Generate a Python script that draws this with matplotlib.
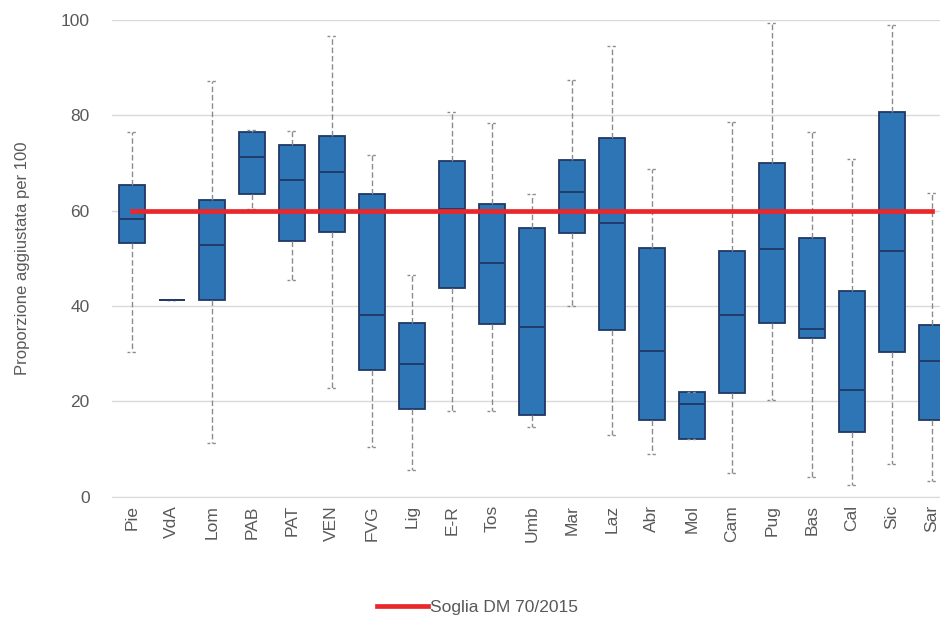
import matplotlib
matplotlib.use("Agg")
import matplotlib.pyplot as plt
from matplotlib.lines import Line2D

plt.rcParams['font.family'] = ['Liberation Sans', 'DejaVu Sans']

regions = ["Pie", "VdA", "Lom", "PAB", "PAT", "VEN", "FVG", "Lig", "E-R", "Tos",
           "Umb", "Mar", "Laz", "Abr", "Mol", "Cam", "Pug", "Bas", "Cal", "Sic", "Sar"]
whisker_low = [30.3, 41.2, 11.3, 60.4, 45.5, 22.9, 10.5, 5.7, 18.0, 18.0,
               14.7, 40.0, 12.9, 8.9, 12.1, 5.0, 20.3, 4.1, 2.5, 6.9, 3.3]
q1 = [53.2, 41.2, 41.3, 63.4, 53.7, 55.6, 26.5, 18.5, 43.8, 36.3,
      17.1, 55.4, 34.9, 16.1, 12.1, 21.7, 36.4, 33.3, 13.6, 30.4, 16.1]
median = [58.3, 41.2, 52.8, 71.3, 66.5, 68.1, 38.2, 27.9, 60.4, 49.0,
          35.6, 63.8, 57.5, 30.5, 19.5, 38.2, 51.9, 35.2, 22.3, 51.6, 28.4]
q3 = [65.4, 41.2, 62.3, 76.5, 73.7, 75.7, 63.5, 36.4, 70.4, 61.3,
      56.4, 70.6, 75.2, 52.1, 22.0, 51.6, 70.0, 54.3, 43.1, 80.6, 36.0]
whisker_high = [76.5, 41.2, 87.2, 76.8, 76.7, 96.7, 71.6, 46.5, 80.6, 78.3,
                63.5, 87.4, 94.4, 68.7, 22.0, 78.5, 99.3, 76.4, 70.8, 98.9, 63.7]
threshold = 60
threshold_label = "Soglia DM 70/2015"

stats = []
for i, name in enumerate(regions):
    stats.append({"label": name, "whislo": whisker_low[i], "q1": q1[i], "med": median[i],
                  "q3": q3[i], "whishi": whisker_high[i]})

fig = plt.figure(figsize=(9.4, 6.18), dpi=100)
ax = fig.add_axes([0.119, 0.196, 0.881, 0.772])

text_col = "#595959"
ax.bxp(stats, positions=range(len(regions)), widths=0.65, patch_artist=True,
       showfliers=False, capwidths=0.25,
       boxprops=dict(facecolor="#2E75B6", edgecolor="#1F3864", linewidth=1.3),
       medianprops=dict(color="#1F3864", linewidth=1.3),
       whiskerprops=dict(color="#8C8C8C", linestyle=(0, (4, 2)), linewidth=1),
       capprops=dict(color="#8C8C8C", linestyle=(0, (2, 2)), linewidth=1),
       zorder=3)

ax.plot([0, len(regions) - 1], [threshold, threshold], color="#E8282B", linewidth=3.4, zorder=4)

ax.set_xlim(-0.5, 20.2)
ax.set_ylim(0, 100)
ax.set_yticks([0, 20, 40, 60, 80, 100])
ax.set_xticks(range(len(regions)))
ax.set_xticklabels(regions, rotation=90, fontsize=12.5, color=text_col)
ax.tick_params(axis='y', labelsize=12.5, labelcolor=text_col, length=0, pad=16)
ax.tick_params(axis='x', length=0, pad=6)
ax.set_ylabel("Proporzione aggiustata per 100", fontsize=12, color=text_col, labelpad=22)

ax.grid(axis='y', color="#D9D9D9", linewidth=1, zorder=0)
ax.set_axisbelow(True)
for side in ["top", "right", "left"]:
    ax.spines[side].set_visible(False)
ax.spines["bottom"].set_color("#D9D9D9")

handle = Line2D([], [], color="#E8282B", linewidth=3.4)
fig.legend([handle], [threshold_label], loc="center", bbox_to_anchor=(0.508, 0.017),
           frameon=False, fontsize=12.5, handlelength=2.9, handletextpad=0.1,
           labelcolor=text_col)

fig.savefig("out.png", dpi=100)
